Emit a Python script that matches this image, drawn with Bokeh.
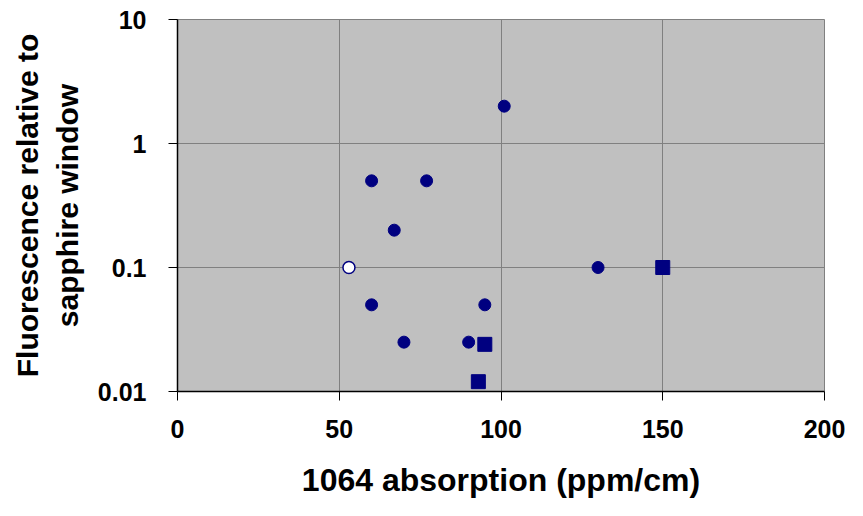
from bokeh.plotting import figure
from bokeh.models import Range1d, FixedTicker
from bokeh.embed import file_html
from bokeh.resources import INLINE

# Data
circle_x = [101, 60, 77, 67, 60, 95, 70, 90, 130]
circle_y = [2.0, 0.5, 0.5, 0.2, 0.05, 0.05, 0.025, 0.025, 0.1]
open_x = [53]
open_y = [0.1]
square_x = [95, 93, 150]
square_y = [0.024, 0.012, 0.1]

x_ticks = [0, 50, 100, 150, 200]
y_ticks = [0.01, 0.1, 1, 10]
y_tick_labels = {0.01: "0.01", 0.1: "0.1", 1: "1", 10: "10"}

NAVY = "#000080"
FONT = "Liberation Sans"

p = figure(width=847, height=500, output_backend="svg", toolbar_location=None,
           y_axis_type="log",
           x_range=Range1d(0, 200), y_range=Range1d(0.01, 10),
           min_border_left=177, min_border_right=23, min_border_top=19, min_border_bottom=100)

p.background_fill_color = "#C0C0C0"
p.border_fill_color = "white"
p.outline_line_color = "#808080"
p.outline_line_width = 1

p.scatter(circle_x, circle_y, marker="circle", size=12, fill_color=NAVY, line_color=NAVY)
p.scatter(open_x, open_y, marker="circle", size=12, fill_color="white", line_color=NAVY, line_width=1.5)
p.scatter(square_x, square_y, marker="square", size=14, fill_color=NAVY, line_color=NAVY)

p.xaxis.ticker = FixedTicker(ticks=x_ticks)
p.yaxis.ticker = FixedTicker(ticks=y_ticks)
p.yaxis.major_label_overrides = y_tick_labels

for ax in (p.xaxis[0], p.yaxis[0]):
    ax.axis_line_color = "black"
    ax.axis_line_width = 1.5
    ax.major_tick_line_color = "black"
    ax.major_tick_out = 9
    ax.major_tick_in = 0
    ax.minor_tick_line_color = None
    ax.major_label_text_font = FONT
    ax.major_label_text_font_style = "bold"
    ax.major_label_text_font_size = "25px"
    ax.major_label_text_color = "black"
    ax.axis_label_text_font = FONT
    ax.axis_label_text_font_style = "bold"
    ax.axis_label_text_color = "black"

p.xaxis.axis_label = "1064 absorption (ppm/cm)"
p.xaxis.axis_label_text_font_size = "32px"
p.xaxis.major_label_standoff = 19
p.xaxis.axis_label_standoff = 21
p.yaxis.axis_label = "Fluorescence relative to\nsapphire window"
p.yaxis.axis_label_text_font_size = "30px"
p.yaxis.major_label_standoff = 22
p.yaxis.axis_label_standoff = 11
p.yaxis.axis_label_text_align = "center"

p.xgrid.ticker = FixedTicker(ticks=x_ticks)
p.ygrid.ticker = FixedTicker(ticks=y_ticks)
p.grid.grid_line_color = "#808080"
p.grid.grid_line_width = 1

open("out.html", "w").write(file_html(p, INLINE))
